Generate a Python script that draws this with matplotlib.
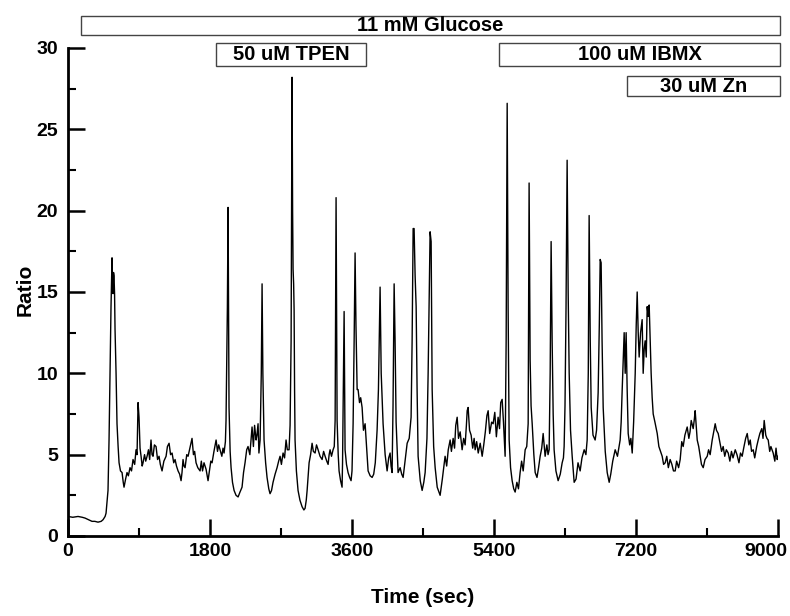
import matplotlib.pyplot as plt
from matplotlib.patches import Rectangle
from matplotlib.ticker import MultipleLocator, FuncFormatter
from matplotlib.transforms import ScaledTranslation

# time (sec) and fluorescence ratio
time_s = [
    0, 60, 127, 180, 216, 260, 304, 340, 380, 420, 444, 470, 482, 507, 520, 533, 545, 558, 565, 571,
    577, 583, 590, 596, 609, 621, 635, 647, 665, 685, 700, 710, 730, 748, 765, 786, 805, 824, 845, 862,
    875, 888, 900, 913, 926, 940, 951, 970, 985, 1002, 1020, 1035, 1052, 1065, 1078, 1095, 1116, 1135, 1154, 1170,
    1192, 1215, 1243, 1260, 1281, 1300, 1319, 1340, 1357, 1375, 1395, 1415, 1433, 1445, 1458, 1470, 1484, 1505, 1522, 1545,
    1572, 1590, 1605, 1623, 1645, 1674, 1690, 1705, 1724, 1750, 1775, 1790, 1810, 1826, 1850, 1877, 1895, 1910, 1927, 1950,
    1965, 1978, 1995, 2003, 2020, 2029, 2035, 2041, 2055, 2067, 2085, 2105, 2130, 2156, 2180, 2206, 2225, 2244, 2265, 2282,
    2305, 2333, 2350, 2365, 2384, 2395, 2409, 2420, 2435, 2450, 2460, 2470, 2485, 2505, 2523, 2545, 2561, 2580, 2599, 2625,
    2650, 2670, 2688, 2705, 2726, 2745, 2764, 2780, 2802, 2815, 2828, 2840, 2847, 2853, 2860, 2866, 2872, 2878, 2895, 2916,
    2940, 2967, 2990, 3005, 3020, 3031, 3056, 3075, 3094, 3110, 3132, 3150, 3170, 3195, 3221, 3240, 3259, 3280, 3297, 3310,
    3322, 3340, 3360, 3375, 3386, 3392, 3398, 3404, 3411, 3425, 3436, 3455, 3474, 3480, 3487, 3494, 3500, 3506, 3512, 3530,
    3550, 3570, 3588, 3600, 3614, 3627, 3639, 3650, 3665, 3677, 3695, 3710, 3728, 3745, 3766, 3785, 3804, 3830, 3855, 3875,
    3895, 3918, 3935, 3956, 3970, 3994, 4020, 4045, 4065, 4083, 4095, 4108, 4120, 4134, 4146, 4159, 4184, 4210, 4230, 4248,
    4270, 4299, 4325, 4349, 4362, 4375, 4387, 4400, 4413, 4425, 4438, 4465, 4489, 4510, 4527, 4550, 4565, 4590, 4603, 4616,
    4635, 4654, 4680, 4717, 4745, 4780, 4800, 4820, 4844, 4860, 4882, 4900, 4915, 4933, 4950, 4971, 4996, 5015, 5034, 5050,
    5060, 5072, 5090, 5110, 5130, 5148, 5161, 5180, 5200, 5225, 5250, 5270, 5290, 5310, 5326, 5345, 5370, 5389, 5410, 5430,
    5452, 5470, 5485, 5503, 5520, 5541, 5554, 5567, 5579, 5592, 5610, 5630, 5650, 5668, 5690, 5710, 5731, 5750, 5770, 5795,
    5815, 5833, 5845, 5858, 5870, 5884, 5905, 5922, 5945, 5965, 5985, 6005, 6023, 6048, 6070, 6085, 6099, 6112, 6124, 6137,
    6150, 6162, 6185, 6213, 6240, 6264, 6280, 6289, 6300, 6313, 6327, 6340, 6353, 6370, 6391, 6416, 6440, 6465, 6492, 6515,
    6543, 6565, 6581, 6595, 6606, 6620, 6632, 6655, 6682, 6700, 6720, 6735, 6746, 6758, 6770, 6784, 6810, 6835, 6860, 6880,
    6905, 6936, 6965, 6999, 7012, 7025, 7040, 7050, 7063, 7075, 7088, 7101, 7120, 7135, 7152, 7170, 7190, 7203, 7215, 7228,
    7240, 7258, 7278, 7291, 7304, 7316, 7330, 7342, 7355, 7367, 7380, 7392, 7405, 7418, 7440, 7469, 7490, 7532, 7550, 7570,
    7590, 7610, 7633, 7655, 7675, 7697, 7715, 7740, 7760, 7780, 7798, 7820, 7849, 7870, 7885, 7900, 7925, 7940, 7950, 7976,
    7995, 8014, 8030, 8052, 8075, 8103, 8120, 8140, 8166, 8185, 8204, 8220, 8242, 8265, 8285, 8305, 8325, 8345, 8369, 8390,
    8410, 8430, 8458, 8480, 8505, 8525, 8546, 8565, 8590, 8610, 8630, 8648, 8665, 8686, 8705, 8730, 8749, 8770, 8795, 8810,
    8825, 8845, 8860, 8876, 8895, 8910, 8939, 8960, 8975, 8990, 9000,
]
ratio = [
    1.2, 1.15, 1.2, 1.15, 1.1, 1.0, 0.9, 0.9, 0.85, 0.9, 1.0, 1.2, 1.4, 2.8, 5.9, 10.0, 14.1, 17.1, 15.0, 14.9,
    16.2, 16.0, 14.9, 12.7, 10.0, 6.9, 5.5, 4.5, 4.0, 3.9, 3.3, 3.0, 3.5, 3.9, 3.7, 4.2, 4.0, 4.7, 4.4, 5.3,
    5.0, 8.2, 7.3, 5.4, 4.9, 4.3, 4.5, 5.0, 4.6, 4.9, 5.3, 4.7, 5.9, 5.0, 4.9, 5.6, 5.5, 4.7, 4.9, 4.4,
    4.0, 4.6, 4.9, 5.5, 5.7, 5.0, 5.1, 4.5, 4.7, 4.3, 4.0, 3.8, 3.4, 3.9, 4.7, 4.3, 4.2, 5.0, 4.9, 5.4,
    6.0, 5.0, 5.2, 4.5, 4.2, 4.0, 4.6, 4.0, 4.5, 4.1, 3.4, 3.9, 4.6, 4.5, 5.2, 5.9, 5.2, 5.6, 5.3, 4.9,
    5.4, 5.1, 5.8, 7.1, 14.0, 20.2, 14.0, 7.9, 5.2, 4.2, 3.3, 2.8, 2.5, 2.4, 2.7, 3.0, 3.9, 4.5, 5.3, 5.5,
    5.0, 6.7, 5.5, 6.8, 5.9, 6.2, 6.9, 5.1, 5.9, 10.0, 15.5, 10.0, 5.9, 4.5, 3.6, 2.9, 2.6, 2.8, 3.3, 3.8,
    4.2, 4.6, 4.9, 4.4, 5.1, 4.8, 5.9, 5.3, 5.3, 6.8, 12.0, 28.2, 20.0, 16.4, 15.5, 13.9, 9.0, 5.9, 4.0, 2.8,
    2.2, 1.8, 1.6, 1.7, 2.2, 2.8, 4.5, 5.0, 5.7, 5.2, 5.1, 5.6, 5.3, 4.9, 4.7, 5.2, 4.9, 4.6, 4.4, 5.0,
    5.3, 4.9, 5.3, 5.5, 7.1, 14.0, 20.8, 14.0, 7.1, 5.0, 4.0, 3.4, 3.0, 4.5, 7.9, 11.0, 13.8, 9.0, 5.3, 4.4,
    3.9, 3.6, 3.4, 4.0, 6.9, 12.0, 17.4, 13.0, 9.0, 9.0, 8.2, 8.5, 7.9, 6.5, 6.9, 5.5, 4.0, 3.7, 3.6, 3.8,
    4.5, 6.5, 9.0, 15.3, 10.0, 6.9, 5.0, 4.0, 4.8, 5.1, 4.3, 3.9, 8.0, 15.5, 12.0, 7.0, 3.9, 4.2, 3.8, 3.6,
    4.5, 5.7, 6.0, 7.3, 12.0, 18.9, 18.9, 16.0, 14.1, 9.0, 4.9, 3.4, 2.8, 3.3, 3.9, 6.0, 10.0, 18.7, 18.1, 9.0,
    5.5, 4.2, 3.0, 2.5, 3.5, 4.9, 4.3, 5.3, 5.9, 5.2, 6.0, 5.4, 6.8, 7.3, 6.0, 6.4, 5.3, 6.0, 5.6, 6.8,
    7.7, 7.9, 6.5, 6.2, 5.4, 6.0, 5.3, 5.8, 5.1, 5.7, 4.9, 5.6, 6.4, 7.4, 7.7, 6.3, 7.0, 6.9, 7.6, 6.1,
    7.3, 6.6, 8.2, 8.4, 7.0, 4.9, 12.0, 26.6, 14.0, 5.9, 4.2, 3.4, 2.9, 2.7, 3.3, 2.9, 3.9, 4.6, 4.0, 5.3,
    5.5, 6.9, 21.7, 10.8, 8.0, 6.9, 5.0, 3.9, 3.6, 4.2, 4.9, 5.4, 6.3, 4.9, 5.6, 5.0, 5.3, 10.0, 18.1, 12.0,
    7.5, 5.3, 4.0, 3.4, 3.8, 4.5, 4.8, 5.5, 8.0, 14.0, 23.1, 15.0, 10.0, 6.5, 4.9, 3.3, 3.5, 4.5, 4.0, 4.8,
    5.3, 5.0, 5.9, 10.0, 19.7, 12.0, 7.9, 6.2, 5.9, 6.5, 8.8, 13.0, 17.0, 16.8, 12.0, 7.9, 5.2, 3.9, 3.3, 3.8,
    4.6, 5.3, 4.9, 5.9, 7.0, 9.0, 11.0, 12.5, 10.0, 12.5, 9.0, 6.3, 5.6, 6.0, 5.1, 7.0, 10.0, 13.0, 15.0, 12.5,
    11.0, 12.5, 13.3, 10.0, 11.5, 12.0, 11.0, 14.1, 13.5, 14.2, 12.0, 10.0, 8.5, 7.5, 7.0, 6.3, 5.5, 4.9, 4.4, 4.5,
    4.9, 4.2, 4.7, 4.4, 4.0, 4.0, 4.6, 4.2, 4.7, 5.8, 5.5, 6.2, 6.7, 6.0, 6.4, 7.1, 6.6, 7.2, 7.7, 5.9,
    5.5, 4.9, 4.4, 4.2, 4.7, 4.9, 5.3, 5.0, 5.9, 6.4, 6.9, 6.5, 6.3, 5.7, 5.2, 5.5, 4.9, 5.3, 5.1, 4.6,
    5.2, 4.8, 5.3, 5.0, 4.5, 5.1, 4.9, 5.4, 6.0, 6.3, 5.6, 5.9, 5.2, 5.3, 4.8, 5.5, 5.9, 6.3, 6.6, 6.0,
    7.1, 6.2, 6.0, 5.9, 5.2, 5.5, 5.1, 4.6, 5.4, 4.7, 4.9,
]

# treatment bars: label, start (sec), end (sec), row
bar_labels = ["11 mM Glucose", "50 uM TPEN", "100 uM IBMX", "30 uM Zn"]
bar_start = [165, 1877, 5465, 7088]
bar_end = [9025, 3779, 9025, 9025]
bar_rows = [0, 1, 1, 2]

X_MAX = 9000

plt.rcParams["font.family"] = ["Liberation Sans", "DejaVu Sans"]
plt.rcParams["font.weight"] = "bold"

fig = plt.figure(figsize=(7.9, 6.16), dpi=100)
ax = fig.add_axes([0.0861, 0.1299, 0.8987, 0.7922])

ax.plot(time_s, ratio, color="black", lw=1.0)

ax.set_xlim(0, X_MAX)
ax.set_ylim(0, 30)
ax.xaxis.set_major_locator(MultipleLocator(1800))
ax.xaxis.set_minor_locator(MultipleLocator(900))
ax.yaxis.set_major_locator(MultipleLocator(5))
ax.yaxis.set_minor_locator(MultipleLocator(2.5))
# last x label sits left of its tick, drawn separately below
ax.xaxis.set_major_formatter(FuncFormatter(lambda v, p: "" if v >= X_MAX else f"{v:.0f}"))

for s in ["top", "right"]:
    ax.spines[s].set_visible(False)
for s in ["left", "bottom"]:
    ax.spines[s].set_linewidth(2)

ax.tick_params(which="major", direction="in", length=12, width=1.8, labelsize=14, pad=5)
ax.tick_params(which="minor", direction="in", length=6, width=1.5)
ax.tick_params(axis="y", pad=7)

shift = ax.get_xaxis_transform() + ScaledTranslation(0.09, -0.07, fig.dpi_scale_trans)
ax.text(X_MAX, 0, f"{X_MAX}", transform=shift, ha="right", va="top",
        fontsize=14, fontweight="bold", clip_on=False)

ax.set_xlabel("Time (sec)", fontsize=15, fontweight="bold")
ax.xaxis.set_label_coords(0.5, -0.127)
ax.xaxis.label.set_va("center")
ax.set_ylabel("Ratio", fontsize=15, fontweight="bold")
ax.yaxis.set_label_coords(-0.06, 0.504)
ax.yaxis.label.set_va("center")

row_y = [(30.8, 31.96), (28.9, 30.3), (27.04, 28.27)]
for lab, x0, x1, r in zip(bar_labels, bar_start, bar_end, bar_rows):
    y0, y1 = row_y[r]
    ax.add_patch(Rectangle((x0, y0), x1 - x0, y1 - y0, facecolor="white",
                           edgecolor="#444444", lw=1, clip_on=False))
    ax.text((x0 + x1) / 2, (y0 + y1) / 2, lab, ha="center", va="center",
            fontsize=14.5, fontweight="bold", clip_on=False)

fig.savefig("out.png", dpi=100)
